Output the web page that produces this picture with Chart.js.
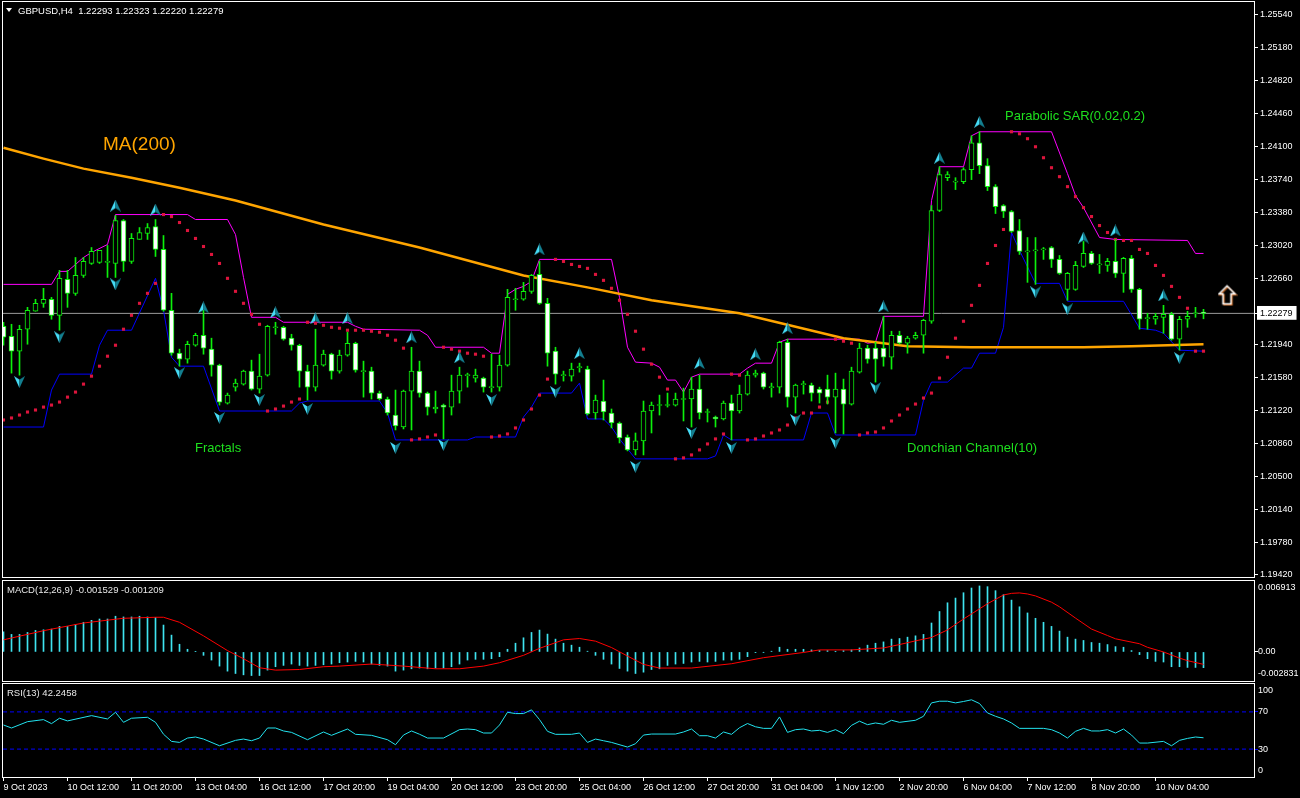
<!DOCTYPE html>
<html>
<head>
<meta charset="utf-8">
<script src="https://cdn.jsdelivr.net/npm/chart.js@4.4.1/dist/chart.umd.min.js"></script>
<style>
  html, body { margin: 0; padding: 0; background: #000; width: 1300px; height: 798px; overflow: hidden; }
  canvas { position: absolute; left: 0; }
  .lbl { position: absolute; white-space: pre; font-family: "Liberation Sans", Arial, sans-serif; line-height: 1; z-index: 5; }
  .tri { position: absolute; left: 6px; top: 8px; width: 0; height: 0; border-left: 3.5px solid transparent; border-right: 3.5px solid transparent; border-top: 4px solid #fff; z-index: 5; }
</style>
</head>
<body>
<canvas id="main" width="1300" height="579" style="top:0"></canvas>
<canvas id="macd" width="1300" height="104" style="top:579px"></canvas>
<canvas id="rsi" width="1300" height="115" style="top:683px"></canvas>

<div class="tri"></div>
<div class="lbl" style="left:18px;top:6px;font-size:9.5px;color:#fff">GBPUSD,H4  1.22293 1.22323 1.22220 1.22279</div>
<div class="lbl" style="left:103px;top:134px;font-size:19px;color:#ffa500">MA(200)</div>
<div class="lbl" style="left:195px;top:440.5px;font-size:13px;color:#1ee01e">Fractals</div>
<div class="lbl" style="left:907px;top:440.5px;font-size:13px;color:#1ee01e">Donchian Channel(10)</div>
<div class="lbl" style="left:1005px;top:108.5px;font-size:13px;color:#1ee01e">Parabolic SAR(0.02,0.2)</div>
<div class="lbl" style="left:7px;top:585px;font-size:9.5px;color:#e8e8e8">MACD(12,26,9) -0.001529 -0.001209</div>
<div class="lbl" style="left:7px;top:688px;font-size:9.5px;color:#e8e8e8">RSI(13) 42.2458</div>

<script>
// ---- time axis (one tick every 8 H4 bars) ----
const TIME_TICK_IDX = [0, 8, 16, 24, 32, 40, 48, 56, 64, 72, 80, 88, 96, 104, 112, 120, 128, 136, 144];
const TIME_LABELS = ['9 Oct 2023', '10 Oct 12:00', '11 Oct 20:00', '13 Oct 04:00', '16 Oct 12:00', '17 Oct 20:00',
  '19 Oct 04:00', '20 Oct 12:00', '23 Oct 20:00', '25 Oct 04:00', '26 Oct 12:00', '27 Oct 20:00', '31 Oct 04:00',
  '1 Nov 12:00', '2 Nov 20:00', '6 Nov 04:00', '7 Nov 12:00', '8 Nov 20:00', '10 Nov 04:00'];

// ---- price axis ----
const PRICE_TICKS = [1.19420, 1.19780, 1.20140, 1.20500, 1.20860, 1.21220, 1.21580, 1.21940, 1.22660,
  1.23020, 1.23380, 1.23740, 1.24100, 1.24460, 1.24820, 1.25180, 1.25540];
const LAST_PRICE = 1.22279;

// ---- GBPUSD H4 candles ----
const OPEN = [
  1.22138, 1.22029, 1.21866, 1.22106, 1.22302, 1.22389, 1.22433, 1.22258, 1.22651, 1.22498,
  1.22694, 1.22825, 1.22836, 1.22836, 1.22825, 1.23294, 1.22847, 1.23087, 1.23152, 1.23228,
  1.22978, 1.22313, 1.21844, 1.21779, 1.21931, 1.22040, 1.21888, 1.21713, 1.21299, 1.21473,
  1.21506, 1.21648, 1.21452, 1.21604, 1.22122, 1.22127, 1.22008, 1.21931, 1.21648, 1.21473,
  1.21713, 1.21833, 1.21648, 1.21822, 1.21953, 1.21643, 1.21648, 1.21408, 1.21343, 1.21168,
  1.21037, 1.21430, 1.21648, 1.21408, 1.21234, 1.21277, 1.21255, 1.21430, 1.21599, 1.21572,
  1.21572, 1.21468, 1.21473, 1.21713, 1.22428, 1.22433, 1.22520, 1.22705, 1.22389, 1.21866,
  1.21599, 1.21593, 1.21686, 1.21670, 1.21190, 1.21321, 1.21190, 1.21081, 1.20928, 1.20787,
  1.20885, 1.21212, 1.21272, 1.21272, 1.21277, 1.21338, 1.21343, 1.21452, 1.21196, 1.21146,
  1.21125, 1.21299, 1.21212, 1.21397, 1.21604, 1.21626, 1.21468, 1.21473, 1.21964, 1.21364,
  1.21501, 1.21495, 1.21452, 1.21452, 1.21364, 1.21452, 1.21288, 1.21637, 1.21899, 1.21899,
  1.21899, 1.21800, 1.22040, 1.21953, 1.22008, 1.22040, 1.22193, 1.23403, 1.23762, 1.23714,
  1.23719, 1.23850, 1.24144, 1.23893, 1.23664, 1.23457, 1.23392, 1.23185, 1.22951, 1.22962,
  1.22973, 1.22999, 1.22869, 1.22542, 1.22542, 1.22792, 1.22934, 1.22809, 1.22803, 1.22847,
  1.22716, 1.22880, 1.22542, 1.22221, 1.22215, 1.22236, 1.22269, 1.21997, 1.22215, 1.22275,
  1.22293];
const HIGH = [
  1.22182, 1.22160, 1.22149, 1.22345, 1.22433, 1.22553, 1.22454, 1.22749, 1.22749, 1.22890,
  1.22890, 1.22999, 1.22967, 1.23021, 1.23348, 1.23305, 1.23152, 1.23217, 1.23261, 1.23305,
  1.23130, 1.22498, 1.21888, 1.21975, 1.22062, 1.22313, 1.22008, 1.21724, 1.21408, 1.21561,
  1.21659, 1.21768, 1.21833, 1.22149, 1.22182, 1.22138, 1.22051, 1.21942, 1.21713, 1.22106,
  1.21877, 1.21844, 1.21877, 1.22073, 1.21964, 1.21757, 1.21691, 1.21430, 1.21364, 1.21441,
  1.21441, 1.21909, 1.21757, 1.21419, 1.21430, 1.21288, 1.21604, 1.21691, 1.21626, 1.21670,
  1.21582, 1.21833, 1.21822, 1.22542, 1.22553, 1.22618, 1.22705, 1.22847, 1.22444, 1.21909,
  1.21648, 1.21735, 1.21735, 1.21702, 1.21386, 1.21550, 1.21234, 1.21092, 1.20950, 1.20972,
  1.21321, 1.21310, 1.21386, 1.21408, 1.21408, 1.21462, 1.21582, 1.21604, 1.21234, 1.21157,
  1.21321, 1.21386, 1.21495, 1.21648, 1.21659, 1.21637, 1.21517, 1.21975, 1.21997, 1.21506,
  1.21539, 1.21517, 1.21473, 1.21604, 1.21626, 1.21561, 1.21691, 1.21953, 1.21931, 1.21964,
  1.22247, 1.22084, 1.22084, 1.22029, 1.22073, 1.22215, 1.23457, 1.23882, 1.23828, 1.23762,
  1.23871, 1.24220, 1.24264, 1.23970, 1.23686, 1.23468, 1.23403, 1.23305, 1.23108, 1.23108,
  1.22999, 1.23010, 1.22912, 1.22727, 1.22847, 1.23065, 1.22956, 1.22923, 1.22880, 1.23087,
  1.22891, 1.22912, 1.22553, 1.22280, 1.22280, 1.22367, 1.22291, 1.22247, 1.22302, 1.22345,
  1.22323];
const LOW = [
  1.21931, 1.21626, 1.21604, 1.21942, 1.22302, 1.22345, 1.22215, 1.22095, 1.22345, 1.22476,
  1.22672, 1.22814, 1.22825, 1.22672, 1.22672, 1.22738, 1.22825, 1.23087, 1.23087, 1.22901,
  1.22302, 1.21822, 1.21702, 1.21735, 1.21920, 1.21833, 1.21593, 1.21277, 1.21288, 1.21430,
  1.21495, 1.21441, 1.21408, 1.21593, 1.22051, 1.21986, 1.21877, 1.21473, 1.21332, 1.21430,
  1.21702, 1.21561, 1.21626, 1.21811, 1.21637, 1.21364, 1.21343, 1.21332, 1.21168, 1.21005,
  1.21016, 1.21005, 1.21364, 1.21168, 1.21190, 1.20907, 1.21168, 1.21299, 1.21473, 1.21528,
  1.21419, 1.21419, 1.21430, 1.21702, 1.22313, 1.22422, 1.22498, 1.22378, 1.21702, 1.21506,
  1.21539, 1.21539, 1.21637, 1.21168, 1.21125, 1.21114, 1.21027, 1.20863, 1.20776, 1.20732,
  1.20732, 1.20972, 1.21168, 1.21255, 1.21266, 1.21103, 1.21037, 1.21125, 1.21092, 1.21037,
  1.21114, 1.20896, 1.21190, 1.21386, 1.21582, 1.21452, 1.21364, 1.21408, 1.21255, 1.21190,
  1.21397, 1.21321, 1.21299, 1.21288, 1.20972, 1.20961, 1.21277, 1.21626, 1.21735, 1.21528,
  1.21702, 1.21670, 1.21942, 1.21844, 1.21997, 1.21844, 1.22171, 1.23392, 1.23730, 1.23632,
  1.23697, 1.23741, 1.23806, 1.23621, 1.23370, 1.23326, 1.23163, 1.22923, 1.22618, 1.22596,
  1.22869, 1.22781, 1.22705, 1.22422, 1.22531, 1.22781, 1.22814, 1.22716, 1.22738, 1.22672,
  1.22509, 1.22509, 1.22106, 1.22106, 1.22160, 1.22062, 1.21986, 1.21877, 1.22127, 1.22236,
  1.22220];
const CLOSE = [
  1.22018, 1.21866, 1.22106, 1.22313, 1.22389, 1.22433, 1.22258, 1.22662, 1.22498, 1.22694,
  1.22847, 1.22956, 1.22967, 1.22847, 1.23294, 1.22847, 1.23098, 1.23163, 1.23217, 1.22978,
  1.22313, 1.21844, 1.21779, 1.21942, 1.22040, 1.21899, 1.21713, 1.21310, 1.21386, 1.21517,
  1.21648, 1.21452, 1.21593, 1.22138, 1.22127, 1.21997, 1.21931, 1.21648, 1.21473, 1.21713,
  1.21833, 1.21648, 1.21822, 1.21953, 1.21659, 1.21648, 1.21408, 1.21343, 1.21190, 1.21048,
  1.21430, 1.21648, 1.21408, 1.21255, 1.21255, 1.21255, 1.21430, 1.21604, 1.21604, 1.21604,
  1.21473, 1.21473, 1.21713, 1.22454, 1.22433, 1.22520, 1.22694, 1.22389, 1.21844, 1.21615,
  1.21604, 1.21670, 1.21691, 1.21179, 1.21332, 1.21201, 1.21081, 1.20918, 1.20787, 1.20885,
  1.21212, 1.21277, 1.21277, 1.21277, 1.21343, 1.21343, 1.21452, 1.21190, 1.21201, 1.21125,
  1.21299, 1.21212, 1.21397, 1.21604, 1.21626, 1.21473, 1.21473, 1.21964, 1.21364, 1.21495,
  1.21506, 1.21408, 1.21408, 1.21364, 1.21452, 1.21288, 1.21648, 1.21899, 1.21779, 1.21779,
  1.21800, 1.22040, 1.21953, 1.22008, 1.22040, 1.22204, 1.23403, 1.23795, 1.23795, 1.23719,
  1.23850, 1.24144, 1.23893, 1.23664, 1.23446, 1.23392, 1.23174, 1.22956, 1.22956, 1.22967,
  1.22978, 1.22869, 1.22716, 1.22716, 1.22803, 1.22934, 1.22825, 1.22814, 1.22847, 1.22716,
  1.22880, 1.22542, 1.22215, 1.22226, 1.22247, 1.22269, 1.21997, 1.22215, 1.22247, 1.22280,
  1.22279];

// ---- Parabolic SAR (one dot per bar) ----
const SAR = [
  1.21114, 1.21136, 1.21168, 1.21201, 1.21223, 1.21255, 1.21277, 1.21310, 1.21364, 1.21419,
  1.21506, 1.21593, 1.21702, 1.21811, 1.21931, 1.22106, 1.22258, 1.22389, 1.22498, 1.22607,
  1.23359, 1.23337, 1.23272, 1.23185, 1.23098, 1.23010, 1.22923, 1.22825, 1.22662, 1.22520,
  1.22389, 1.22269, 1.22160, 1.21212, 1.21234, 1.21266, 1.21310, 1.21343, 1.22182, 1.22171,
  1.22149, 1.22127, 1.22117, 1.22095, 1.22095, 1.22095, 1.22084, 1.22073, 1.22040, 1.21986,
  1.21899, 1.20896, 1.20907, 1.20928, 1.20950, 1.21909, 1.21888, 1.21866, 1.21844, 1.21833,
  1.21811, 1.20928, 1.20939, 1.20961, 1.21027, 1.21114, 1.21234, 1.21386, 1.21561, 1.22869,
  1.22847, 1.22814, 1.22792, 1.22771, 1.22705, 1.22640, 1.22553, 1.22422, 1.22269, 1.22084,
  1.21888, 1.21724, 1.21582, 1.21452, 1.20689, 1.20700, 1.20732, 1.20787, 1.20852, 1.20907,
  1.20961, 1.21615, 1.21604, 1.20896, 1.20907, 1.20939, 1.20972, 1.21005, 1.21059, 1.21136,
  1.21190, 1.21190, 1.21255, 1.21310, 1.21997, 1.21975, 1.21953, 1.20950, 1.20972, 1.20983,
  1.21027, 1.21103, 1.21168, 1.21234, 1.21288, 1.21354, 1.21408, 1.21572, 1.21800, 1.22008,
  1.22193, 1.22367, 1.22585, 1.22825, 1.23021, 1.23196, 1.24264, 1.24242, 1.24188, 1.24100,
  1.23980, 1.23871, 1.23773, 1.23664, 1.23555, 1.23435, 1.23337, 1.23239, 1.23163, 1.23087,
  1.23076, 1.23076, 1.22978, 1.22934, 1.22803, 1.22694, 1.22574, 1.22454, 1.22335, 1.21866,
  1.21866];

// ---- MA(200), Donchian(10) : vertices [bar, price] ----
const MA200_PTS = [[0, 1.24089], [5, 1.23970], [10, 1.23861], [16, 1.23762], [22, 1.23653], [29, 1.23512],
  [40, 1.23250], [52, 1.22999], [65, 1.22694], [73, 1.22563], [81, 1.22422], [92, 1.22280], [105, 1.22008],
  [113, 1.21920], [121, 1.21909], [135, 1.21909], [141, 1.21920], [150, 1.21942]];
const DC_UPPER_PTS = [[0, 1.22596], [6, 1.22596], [7, 1.22738], [8, 1.22738], [10, 1.22890], [11, 1.22945],
  [13, 1.23032], [14, 1.23359], [23, 1.23359], [24, 1.23305], [28, 1.23305], [29, 1.23141], [30, 1.22672],
  [31, 1.22236], [34, 1.22236], [35, 1.22182], [43, 1.22182], [44, 1.22138], [45, 1.22106], [52, 1.22095],
  [53, 1.22040], [54, 1.21909], [60, 1.21909], [61, 1.21844], [62, 1.21844], [63, 1.22487], [64, 1.22542],
  [65, 1.22574], [66, 1.22629], [67, 1.22869], [76, 1.22869], [77, 1.22454], [78, 1.21909], [79, 1.21746],
  [81, 1.21735], [82, 1.21691], [83, 1.21550], [84, 1.21550], [85, 1.21419], [86, 1.21582], [87, 1.21615],
  [92, 1.21615], [93, 1.21681], [94, 1.21735], [96, 1.21735], [97, 1.21964], [98, 1.21997], [107, 1.21997],
  [108, 1.21953], [109, 1.21964], [110, 1.22247], [115, 1.22247], [116, 1.23512], [117, 1.23882], [120, 1.23882],
  [121, 1.24220], [122, 1.24264], [131, 1.24264], [133, 1.23806], [134, 1.23566], [135, 1.23435], [137, 1.23108],
  [139, 1.23087], [148, 1.23076], [149, 1.22934], [150, 1.22934]];
const DC_LOWER_PTS = [[0, 1.21037], [5, 1.21037], [6, 1.21441], [7, 1.21615], [11, 1.21615], [12, 1.21931],
  [13, 1.22095], [16, 1.22095], [19, 1.22662], [20, 1.22313], [21, 1.21800], [22, 1.21702], [25, 1.21702],
  [27, 1.21212], [36, 1.21212], [37, 1.21299], [38, 1.21321], [47, 1.21321], [48, 1.21190], [49, 1.20896],
  [58, 1.20896], [59, 1.20928], [64, 1.20928], [65, 1.21146], [66, 1.21255], [67, 1.21408], [71, 1.21408],
  [72, 1.21517], [73, 1.21125], [75, 1.21125], [76, 1.21037], [77, 1.20907], [79, 1.20689], [88, 1.20689],
  [89, 1.20721], [90, 1.20950], [91, 1.20896], [100, 1.20896], [101, 1.21190], [103, 1.21190], [104, 1.20950],
  [114, 1.20950], [115, 1.21332], [116, 1.21528], [118, 1.21528], [120, 1.21681], [121, 1.21681], [122, 1.21844],
  [124, 1.21844], [125, 1.22127], [126, 1.23163], [127, 1.22967], [129, 1.22607], [132, 1.22607], [133, 1.22411],
  [140, 1.22411], [142, 1.22117], [144, 1.22095], [145, 1.22062], [147, 1.21877], [150, 1.21866]];

// ---- Fractals [bar, arrow price] ----
const FRACTAL_UP = [[14, 1.23457], [19, 1.23414], [25, 1.22345], [34, 1.22291], [39, 1.22226], [43, 1.22226],
  [51, 1.22018], [57, 1.21800], [67, 1.22978], [72, 1.21844], [87, 1.21735], [94, 1.21833], [98, 1.22117],
  [110, 1.22356], [117, 1.23980], [122, 1.24373], [135, 1.23108], [139, 1.23185], [145, 1.22476]];
const FRACTAL_DOWN = [[2, 1.21528], [7, 1.22018], [14, 1.22596], [22, 1.21626], [27, 1.21136], [32, 1.21332],
  [38, 1.21234], [49, 1.20809], [55, 1.20841], [61, 1.21332], [69, 1.21419], [79, 1.20601], [86, 1.20972],
  [91, 1.20809], [99, 1.21114], [104, 1.20863], [109, 1.21462], [129, 1.22509], [133, 1.22324], [147, 1.21790]];
const SIGNAL_ARROW = [[153, 1.22476]];

// ---- MACD(12,26,9) ----
const MACD_HIST = [
  0.00197, 0.00171, 0.00171, 0.00190, 0.00210, 0.00216, 0.00223, 0.00249, 0.00249, 0.00269,
  0.00289, 0.00308, 0.00321, 0.00321, 0.00348, 0.00341, 0.00341, 0.00348, 0.00341, 0.00335,
  0.00262, 0.00164, 0.00075, 0.00026, 0.00003, -0.00033, -0.00079, -0.00138, -0.00187, -0.00210,
  -0.00223, -0.00230, -0.00230, -0.00177, -0.00144, -0.00131, -0.00118, -0.00131, -0.00138, -0.00131,
  -0.00125, -0.00118, -0.00105, -0.00098, -0.00092, -0.00098, -0.00118, -0.00131, -0.00138, -0.00187,
  -0.00177, -0.00164, -0.00157, -0.00164, -0.00157, -0.00157, -0.00144, -0.00118, -0.00079, -0.00072,
  -0.00072, -0.00066, -0.00046, 0.00026, 0.00085, 0.00138, 0.00190, 0.00213, 0.00174, 0.00125,
  0.00085, 0.00066, 0.00046, 0.00007, -0.00033, -0.00072, -0.00118, -0.00161, -0.00187, -0.00210,
  -0.00197, -0.00171, -0.00164, -0.00131, -0.00118, -0.00112, -0.00098, -0.00092, -0.00098, -0.00092,
  -0.00079, -0.00079, -0.00072, -0.00046, -0.00007, -0.00003, 0.00007, 0.00046, 0.00026, 0.00026,
  0.00026, 0.00020, 0.00013, 0.00013, 0.00002, 0.00013, 0.00020, 0.00039, 0.00066, 0.00085,
  0.00098, 0.00125, 0.00131, 0.00144, 0.00157, 0.00171, 0.00282, 0.00394, 0.00479, 0.00525,
  0.00577, 0.00623, 0.00643, 0.00636, 0.00597, 0.00558, 0.00505, 0.00440, 0.00380, 0.00328,
  0.00289, 0.00249, 0.00203, 0.00144, 0.00125, 0.00112, 0.00092, 0.00085, 0.00072, 0.00052,
  0.00046, 0.00013, -0.00026, -0.00066, -0.00092, -0.00098, -0.00144, -0.00144, -0.00151, -0.00151,
  -0.00153];
const MACD_SIGNAL_PTS = [[0, 0.00118], [5, 0.00207], [10, 0.00282], [15, 0.00328], [19, 0.00338], [20, 0.00338],
  [22, 0.00289], [25, 0.00157], [28, 0.00013], [30, -0.00066], [32, -0.00154], [34, -0.00177], [37, -0.00171],
  [40, -0.00144], [42, -0.00138], [46, -0.00118], [50, -0.00138], [54, -0.00164], [57, -0.00164], [60, -0.00138],
  [62, -0.00105], [65, -0.00033], [67, 0.00035], [70, 0.00118], [72, 0.00131], [74, 0.00105], [76, 0.00043],
  [78, -0.00040], [80, -0.00121], [82, -0.00157], [86, -0.00157], [91, -0.00115], [95, -0.00056], [100, -0.00005],
  [102, 0.00020], [106, 0.00020], [110, 0.00039], [112, 0.00072], [114, 0.00108], [116, 0.00141], [118, 0.00215],
  [120, 0.00321], [122, 0.00420], [123, 0.00470], [125, 0.00555], [126, 0.00571], [127, 0.00575], [128, 0.00565],
  [129, 0.00546], [131, 0.00485], [132, 0.00440], [134, 0.00330], [136, 0.00223], [138, 0.00160], [139, 0.00128],
  [142, 0.00080], [143, 0.00045], [145, 0.00000], [147, -0.00060], [148, -0.00085], [150, -0.00121]];
const MACD_MIN = -0.002831, MACD_MAX = 0.006913;
// label text and the value at which MT4 prints it (top/bottom labels sit inside the pane)
const MACD_AXIS = [[0.00623, '0.006913'], [0, '0.00'], [-0.00215, '-0.002831']];

// ---- RSI(13) ----
const RSI_PTS = [[0, 55.9], [1, 52.7], [3, 59.5], [5, 61.7], [6, 57.4], [7, 63.2], [8, 60.3], [11, 66], [13, 62.4],
  [14, 69.6], [15, 58.8], [16, 63.2], [18, 64.2], [19, 58.8], [20, 46], [21, 38.3], [22, 37.2], [23, 41.9], [24, 43],
  [25, 40.8], [27, 33.6], [29, 39.4], [30, 40.8], [31, 39], [32, 41.9], [33, 52.7], [34, 52.7], [35, 49.5], [36, 48],
  [38, 40.1], [40, 48.4], [41, 44.8], [43, 51.6], [44, 45.9], [46, 44.8], [48, 40.1], [49, 34.7], [50, 45.1],
  [51, 49.5], [52, 46], [53, 41.9], [55, 41.9], [57, 50.9], [58, 51.6], [59, 50.9], [60, 47.3], [61, 47.3],
  [62, 55.9], [63, 69.6], [64, 68.2], [65, 68.2], [66, 72.2], [67, 61.7], [68, 49.1], [69, 45.9], [71, 45.9],
  [72, 47.3], [73, 37.2], [74, 40.8], [75, 39], [76, 37.2], [78, 32.2], [79, 35.8], [80, 45.1], [81, 46.2],
  [84, 46.2], [85, 48.4], [86, 51.6], [87, 44.4], [88, 44.4], [89, 41.9], [90, 48.4], [91, 45.9], [92, 53],
  [93, 57.5], [94, 54], [95, 52.3], [96, 52.3], [97, 64.6], [98, 48], [99, 50.9], [100, 51.6], [101, 49.5],
  [102, 50.2], [103, 48], [104, 50.9], [105, 46.6], [106, 55.5], [107, 60], [108, 56.3], [109, 58.1], [110, 56.7],
  [111, 61], [112, 58.8], [114, 61], [115, 65.3], [116, 79.7], [117, 81.5], [118, 81.5], [119, 79.7], [120, 81.2],
  [121, 83], [122, 79], [123, 68.9], [124, 65.3], [125, 62.4], [126, 58.1], [127, 52.3], [130, 52.3], [131, 50.9],
  [132, 47.3], [133, 41.9], [134, 49.1], [135, 52.3], [136, 49.5], [137, 49.5], [138, 50.9], [139, 47.3],
  [140, 51.6], [141, 45.1], [142, 36.5], [143, 36.5], [145, 38.3], [146, 33.6], [147, 39.4], [148, 41.5],
  [149, 43], [150, 42.2]];
const RSI_LEVELS = [70, 30];
const RSI_AXIS = [[92.8, '100'], [70, '70'], [30, '30'], [7.5, '0']];

// ---------------------------------------------------------------------------
const GREEN = '#0cf00c';
const X_MIN = -0.0625, X_MAX = 156.3125;

Chart.defaults.font.family = '"Liberation Sans", Arial, sans-serif';
Chart.defaults.font.size = 9;
Chart.defaults.color = '#ffffff';
Chart.defaults.animation = false;
Chart.defaults.events = [];
Chart.defaults.plugins.legend.display = false;
Chart.defaults.plugins.tooltip.enabled = false;

const toXY = pts => pts.map(p => ({ x: p[0], y: p[1] }));

// keep the pane exactly where the terminal puts it: no extra room for edge labels
function fixedWidth(s) {
  s.width = 46;
  s.paddingTop = 0; s.paddingBottom = 0; s.paddingLeft = 0; s.paddingRight = 0;
}

// white frame around every pane, like the terminal
const paneFrame = {
  id: 'paneFrame',
  afterDraw(chart) {
    const { ctx, chartArea: a } = chart;
    ctx.save();
    ctx.strokeStyle = '#ffffff';
    ctx.lineWidth = 1;
    ctx.strokeRect(a.left - 0.5, a.top - 0.5, a.right - a.left + 1, a.bottom - a.top + 1);
    ctx.restore();
  }
};

function hiddenX() {
  return { type: 'linear', min: X_MIN, max: X_MAX, offset: false, display: false };
}

// fractal arrow icons
function fractalIcon(up) {
  const c = document.createElement('canvas');
  c.width = 11; c.height = 12;
  const g = c.getContext('2d');
  if (!up) { g.translate(0, 12); g.scale(1, -1); }
  g.fillStyle = '#46dcf6';
  g.beginPath(); g.moveTo(5.5, 0); g.lineTo(0, 12); g.lineTo(5.5, 8.5); g.closePath(); g.fill();
  g.fillStyle = '#137f90';
  g.beginPath(); g.moveTo(5.5, 0); g.lineTo(11, 12); g.lineTo(5.5, 8.5); g.closePath(); g.fill();
  return c;
}
function hollowArrow() {
  const c = document.createElement('canvas');
  c.width = 20; c.height = 22;
  const g = c.getContext('2d');
  const path = () => {
    g.beginPath(); g.moveTo(9.5, 1.5); g.lineTo(17.5, 9.5); g.lineTo(13.5, 9.5); g.lineTo(13.5, 19.5);
    g.lineTo(5.5, 19.5); g.lineTo(5.5, 9.5); g.lineTo(1.5, 9.5); g.closePath();
  };
  g.lineWidth = 1.5;
  g.save(); g.translate(1, 1); g.strokeStyle = '#c8641e'; path(); g.stroke(); g.restore();
  g.strokeStyle = '#ffffff'; path(); g.stroke();
  return c;
}

// ---------------- main pane ----------------
const idx = OPEN.map((_, i) => i);
new Chart(document.getElementById('main'), {
  type: 'bar',
  data: {
    datasets: [
      { type: 'line', data: toXY(FRACTAL_UP), showLine: false, pointStyle: fractalIcon(true), pointRadius: 6, order: 0 },
      { type: 'line', data: toXY(FRACTAL_DOWN), showLine: false, pointStyle: fractalIcon(false), pointRadius: 6, order: 0 },
      { type: 'line', data: toXY(SIGNAL_ARROW), showLine: false, pointStyle: hollowArrow(), pointRadius: 10, order: 0 },
      {
        label: 'body', data: idx.map(i => ({ x: i, y: [OPEN[i], CLOSE[i]] })),
        backgroundColor: idx.map(i => CLOSE[i] >= OPEN[i] ? '#000000' : '#ffffff'),
        borderColor: GREEN, borderWidth: 1, borderSkipped: false, minBarLength: 1,
        barThickness: 5, grouped: false, order: 1
      },
      {
        label: 'wick', data: idx.map(i => ({ x: i, y: [LOW[i], HIGH[i]] })),
        backgroundColor: GREEN, borderWidth: 0, barThickness: 1, grouped: false, order: 2
      },
      {
        type: 'line', data: idx.map(i => ({ x: i, y: SAR[i] })), showLine: false,
        pointStyle: 'rect', pointRadius: 2.2, pointBackgroundColor: '#dc143c', pointBorderWidth: 0, order: 3
      },
      { type: 'line', data: toXY(MA200_PTS), borderColor: '#ffa500', borderWidth: 2.5, pointRadius: 0, tension: 0, order: 4 },
      { type: 'line', data: toXY(DC_UPPER_PTS), borderColor: '#ff00ff', borderWidth: 1, pointRadius: 0, tension: 0, order: 5 },
      { type: 'line', data: toXY(DC_LOWER_PTS), borderColor: '#0000ff', borderWidth: 1, pointRadius: 0, tension: 0, order: 5 },
      {
        type: 'line', data: [{ x: X_MIN, y: LAST_PRICE }, { x: X_MAX, y: LAST_PRICE }],
        borderColor: '#9a9a9a', borderWidth: 1, pointRadius: 0, order: 6
      }
    ]
  },
  options: {
    responsive: false,
    layout: { autoPadding: false, padding: { left: 3, top: 2, right: 0, bottom: 2 } },
    scales: {
      x: hiddenX(),
      y: {
        position: 'right', min: 1.19398, max: 1.25682,
        afterFit: fixedWidth,
        afterBuildTicks(s) { s.ticks = PRICE_TICKS.concat([LAST_PRICE]).map(v => ({ value: v })); },
        ticks: {
          autoSkip: false, padding: 2,
          callback: v => v.toFixed(5),
          color: c => c.tick && c.tick.value === LAST_PRICE ? '#000000' : '#ffffff',
          showLabelBackdrop: c => !!c.tick && c.tick.value === LAST_PRICE,
          backdropColor: '#ffffff',
          backdropPadding: { left: 3, right: 4, top: 2, bottom: 1 }
        },
        grid: { drawOnChartArea: false, drawTicks: true, tickLength: 4, color: '#ffffff' },
        border: { display: false }
      }
    }
  },
  plugins: [paneFrame]
});

// ---------------- MACD pane ----------------
new Chart(document.getElementById('macd'), {
  type: 'bar',
  data: {
    datasets: [
      {
        type: 'line', data: toXY(MACD_SIGNAL_PTS), borderColor: '#ff0000', borderWidth: 1,
        pointRadius: 0, tension: 0, order: 0
      },
      {
        data: idx.map(i => ({ x: i, y: MACD_HIST[i] })), backgroundColor: '#3fe3ef',
        barThickness: 1, grouped: false, order: 1
      }
    ]
  },
  options: {
    responsive: false,
    layout: { autoPadding: false, padding: { left: 3, top: 2, right: 0, bottom: 2 } },
    scales: {
      x: hiddenX(),
      y: {
        position: 'right', min: MACD_MIN, max: MACD_MAX,
        afterFit: fixedWidth,
        afterBuildTicks(s) { s.ticks = MACD_AXIS.map(t => ({ value: t[0] })); },
        ticks: {
          autoSkip: false, padding: 0,
          callback: (v, k) => MACD_AXIS[k][1]
        },
        grid: {
          drawOnChartArea: false, drawTicks: true, tickLength: 4,
          color: c => c.tick && c.tick.value === 0 ? '#ffffff' : 'rgba(0,0,0,0)'
        },
        border: { display: false }
      }
    }
  },
  plugins: [paneFrame]
});

// ---------------- RSI pane ----------------
new Chart(document.getElementById('rsi'), {
  type: 'line',
  data: {
    datasets: [
      { data: toXY(RSI_PTS), borderColor: '#22e2ee', borderWidth: 1, pointRadius: 0, tension: 0 },
      ...RSI_LEVELS.map(l => ({
        data: [{ x: X_MIN, y: l }, { x: X_MAX, y: l }], borderColor: '#0000ff',
        borderWidth: 1, borderDash: [4, 3], pointRadius: 0
      }))
    ]
  },
  options: {
    responsive: false,
    layout: { autoPadding: false, padding: { left: 3, top: 1, right: 0, bottom: 0 } },
    scales: {
      x: {
        type: 'linear', min: X_MIN, max: X_MAX, offset: false,
        afterFit(s) { s.height = 21; s.paddingLeft = 0; s.paddingRight = 0; },
        afterBuildTicks(s) { s.ticks = TIME_TICK_IDX.map(v => ({ value: v })); },
        ticks: {
          autoSkip: false, maxRotation: 0, minRotation: 0, align: 'start', padding: 1,
          callback: (v, k) => TIME_LABELS[k]
        },
        grid: { drawOnChartArea: false, drawTicks: true, tickLength: 4, color: '#ffffff' },
        border: { display: false }
      },
      y: {
        position: 'right', min: 0, max: 100,
        afterFit: fixedWidth,
        afterBuildTicks(s) { s.ticks = RSI_AXIS.map(t => ({ value: t[0] })); },
        ticks: { autoSkip: false, padding: 0, callback: (v, k) => RSI_AXIS[k][1] },
        grid: {
          drawOnChartArea: false, drawTicks: true, tickLength: 4,
          color: c => c.tick && (c.tick.value === 70 || c.tick.value === 30) ? '#0000ff' : 'rgba(0,0,0,0)'
        },
        border: { display: false }
      }
    }
  },
  plugins: [paneFrame]
});
</script>
</body>
</html>
